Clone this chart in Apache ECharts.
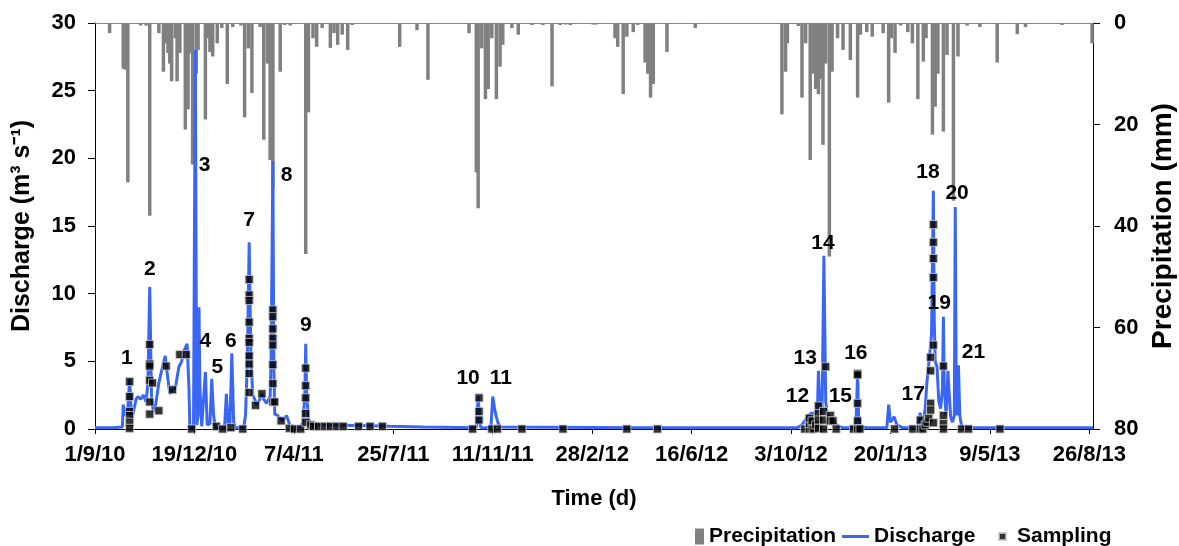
<!DOCTYPE html>
<html>
<head>
<meta charset="utf-8">
<script src="https://cdn.jsdelivr.net/npm/echarts@6/dist/echarts.min.js"></script>
<style>
  html, body { margin: 0; padding: 0; background: #ffffff; }
  #chart { width: 1179px; height: 546px; }
</style>
</head>
<body>
<div id="chart"></div>
<script>
// Record starts 1 Sep 2010; every x value below is a day number counted from that date.
const START_UTC = Date.UTC(2010, 8, 1);
const DAY_MS = 86400000;

// Date axis: one labelled tick every 109 days, 1/9/10 ... 26/8/13
const tickDays = [0, 109, 218, 327, 436, 545, 654, 763, 872, 981, 1090];
const lastDay = 1094;

// Daily precipitation (mm) on rainy days: [day, mm]
const precipitation = [
  [16, 2.0], [31, 9.0], [33, 9.2], [36, 31.4], [50, 0.5], [56, 0.5], [60, 38.0],
  [70, 2.0], [75, 9.6], [77, 4.0], [80, 5.9], [82, 8.0], [84, 11.5], [88, 3.0],
  [90, 11.5], [93, 5.9], [99, 21.0], [102, 17.0], [105, 6.0], [107, 27.9], [111, 10.0],
  [113, 5.3], [121, 19.0], [123, 3.0], [126, 5.7], [129, 6.6], [134, 4.0], [139, 1.0],
  [145, 12.0], [151, 0.8], [160, 0.5], [164, 18.6], [168, 5.0], [172, 13.8], [181, 0.8],
  [185, 23.0], [189, 8.0], [192, 27.0], [195, 33.0], [203, 9.6], [208, 0.4], [214, 0.5],
  [231, 45.5], [234, 17.6], [239, 3.0], [243, 4.7], [249, 1.0], [258, 4.9], [262, 2.0],
  [266, 4.3], [271, 2.3], [277, 5.3], [282, 0.4], [334, 4.7], [353, 1.4], [365, 11.2],
  [410, 2.0], [418, 29.4], [420, 36.5], [424, 5.0], [428, 15.0], [431, 13.0], [435, 3.0],
  [440, 15.0], [444, 8.6], [447, 4.3], [457, 1.0], [464, 2.3], [479, 0.4], [491, 0.4],
  [501, 12.5], [510, 0.4], [516, 0.3], [521, 0.4], [546, 0.3], [549, 0.3], [570, 3.0],
  [573, 4.7], [579, 14.0], [583, 2.7], [590, 1.8], [595, 0.4], [603, 7.8], [606, 10.0],
  [609, 14.7], [612, 12.0], [627, 5.7], [658, 1.0], [753, 18.0], [757, 9.6], [759, 4.0],
  [771, 0.6], [775, 14.7], [779, 4.0], [784, 27.0], [787, 10.0], [790, 13.0], [793, 14.0],
  [796, 11.0], [798, 24.0], [801, 8.0], [805, 46.0], [808, 9.6], [814, 3.0], [820, 5.3],
  [828, 7.3], [836, 14.7], [839, 2.3], [846, 1.8], [852, 2.7], [864, 2.0], [870, 15.7],
  [873, 3.0], [877, 5.9], [883, 0.5], [891, 1.8], [896, 4.0], [902, 15.0], [908, 7.6],
  [911, 3.0], [918, 22.0], [921, 16.5], [924, 10.0], [930, 21.4], [934, 6.3], [941, 35.0],
  [946, 6.6], [956, 0.5], [970, 0.8], [989, 7.8], [1011, 2.2], [1020, 0.8], [1060, 0.4],
  [1093, 4.0]
];

// Daily discharge (m3/s): [day, Q]
const discharge = [
  [0, 0.1], [20, 0.1], [30, 0.15], [31, 1.8], [33, 1.0], [36, 1.5], [38, 3.7], [40, 0.8],
  [42, 1.2], [45, 2.2], [47, 2.4], [50, 2.2], [53, 2.5], [56, 2.0], [58, 3.4], [60, 10.5],
  [62, 2.2], [64, 1.3], [66, 1.6], [68, 2.5], [70, 3.4], [72, 4.0], [74, 4.6], [77, 5.4],
  [79, 4.2], [82, 2.6], [85, 2.9], [88, 3.0], [90, 3.8], [92, 4.6], [95, 5.0], [97, 5.7],
  [99, 6.0], [101, 6.3], [103, 3.0], [104, 0.1], [108, 0.1], [110, 28.0], [111.5, 0.3],
  [113, 1.0], [114, 9.0], [115, 3.0], [117, 0.2], [119, 0.3], [121, 4.2], [123, 0.3],
  [126, 0.4], [128, 3.7], [130, 1.0], [132, 0.1], [142, 0.1], [144, 2.6], [146, 0.3],
  [148, 0.5], [150, 5.6], [152, 0.5], [154, 0.1], [163, 0.1], [165, 1.0], [167, 5.0],
  [169, 13.8], [171, 5.0], [173, 2.5], [175, 2.2], [177, 1.8], [180, 2.1], [183, 2.6],
  [185, 2.2], [188, 1.9], [190, 2.0], [192, 2.4], [193, 5.0], [195, 19.8], [196, 5.0],
  [197, 1.1], [200, 1.0], [203, 0.8], [206, 0.6], [210, 1.0], [212, 0.6], [214, 0.2],
  [221, 0.1], [226, 0.2], [228, 0.6], [230, 2.5], [231, 6.3], [232, 2.5], [234, 0.8],
  [236, 0.4], [240, 0.3], [260, 0.28], [290, 0.25], [323, 0.2], [360, 0.15], [418, 0.1],
  [420, 2.4], [422, 0.4], [423, 0.1], [434, 0.1], [436, 2.4], [437, 2.0], [438, 1.5],
  [440, 0.9], [442, 0.4], [444, 0.15], [600, 0.1], [770, 0.1], [775, 0.3], [778, 0.6],
  [780, 0.8], [782, 1.0], [784, 0.9], [786, 1.2], [788, 1.0], [790, 1.3], [792, 1.5],
  [793, 4.3], [795, 1.2], [797, 1.0], [799, 12.8], [801, 2.0], [803, 1.0], [806, 0.9],
  [809, 0.7], [812, 0.4], [815, 0.2], [820, 0.1], [834, 0.1], [835, 2.0], [836, 4.3],
  [837, 1.0], [839, 0.2], [845, 0.1], [868, 0.1], [870, 1.8], [872, 0.5], [874, 0.4],
  [876, 0.9], [877, 1.0], [879, 0.3], [885, 0.1], [900, 0.1], [903, 0.3], [904.5, 1.2],
  [906, 0.3], [908, 0.5], [910, 1.5], [912, 3.5], [913.5, 4.5], [915, 5.5], [917, 7.0],
  [919, 17.6], [920, 8.0], [921, 5.0], [923, 4.6], [925, 2.0], [927, 1.5], [929, 3.0],
  [930, 8.3], [931, 3.0], [933, 1.0], [935, 4.3], [936, 3.0], [938, 0.9], [940, 0.5],
  [942, 1.0], [943, 16.4], [944, 4.0], [945, 1.0], [946.5, 4.7], [948, 1.0], [950, 0.2],
  [960, 0.1], [1094, 0.1]
];

// Water samples taken: [day, Q at sampling time]
const sampling = [
  [38, 3.5], [38, 2.4], [38, 1.3], [38, 1.0], [38, 0.5], [38, 0.05],
  [60, 6.25], [60, 4.8], [60, 4.65], [60, 3.6], [60, 2.0], [60, 1.1], [63, 3.4], [70, 1.35],
  [78, 4.65], [85, 2.9], [93, 5.5], [100, 5.5], [106, 0], [133, 0.2], [140, 0], [149, 0.1],
  [162, 0], [169, 11.05], [169, 9.9], [169, 9.5], [169, 7.9], [169, 6.7], [169, 6.4],
  [169, 5.4], [169, 4.8], [169, 4.1], [169, 2.7], [176, 1.75], [183, 2.6],
  [195, 8.8], [195, 8.3], [195, 7.4], [195, 6.7], [195, 6.2], [195, 4.75], [195, 3.35],
  [195, 2.0], [197, 2.0], [204, 0.6], [213, 0.05], [218.5, 0], [225.5, 0],
  [231, 4.5], [231, 3.2], [231, 2.3], [231, 1.15], [231, 0.5], [236.5, 0.3], [239.5, 0.2],
  [245, 0.2], [252, 0.2], [258, 0.2], [265, 0.2], [272, 0.2], [289, 0.2], [301.5, 0.2],
  [315, 0.2], [414, 0], [421, 2.3], [421, 1.3], [421, 0.66], [435, 0], [441, 0], [468, 0],
  [513, 0], [583, 0], [616.5, 0],
  [778, 0], [783, 0], [783, 0.4], [783, 0.8], [786, 0], [786, 0.6], [788, 0], [790, 0.3],
  [793, 1.7], [793, 1.15], [793, 0.66], [793, 0.05], [798.6, 1.3], [798.6, 0.66],
  [798.6, 0], [801, 4.6], [806, 1.0], [806, 0.6], [809, 0.6], [812.5, 0], [831.5, 0],
  [836, 4.1], [836, 4.0], [836, 1.9], [836, 0.6], [836, 0], [838.5, 0], [876.5, 0],
  [896.5, 0], [904.6, 0.66], [904.6, 0], [907.5, 0], [910, 0.3], [912, 0.5], [914, 0.8],
  [916, 1.9], [916, 1.4], [916, 4.3], [916, 5.3], [919, 6.2], [919, 11.2], [919, 12.6],
  [919, 13.8], [919, 15.1], [919, 0.46], [930, 4.65], [930, 1.0], [930, 0.4], [930, 0],
  [950, 0], [957.5, 0], [992, 0]
];

// Numbered flood events: [day, Q where the number sits, event number]
const events = [
  [35, 5.2, '1'], [60, 11.8, '2'], [120, 19.5, '3'], [121, 6.5, '4'], [134, 4.6, '5'],
  [149, 6.5, '6'], [169, 15.4, '7'], [210, 18.75, '8'], [231, 7.7, '9'], [409, 3.75, '10'],
  [445, 3.75, '11'], [770, 2.4, '12'], [778.5, 5.2, '13'], [798, 13.75, '14'],
  [817, 2.4, '15'], [834, 5.6, '16'], [897, 2.6, '17'], [913, 19.0, '18'],
  [925.5, 9.3, '19'], [945, 17.4, '20'], [963, 5.7, '21']
];

const FONT = '"Liberation Sans", Arial, sans-serif';
const BLUE = '#3a66f5';
const GREY = '#808080';

function dayLabel(d) {
  const t = new Date(START_UTC + d * DAY_MS);
  return t.getUTCDate() + '/' + (t.getUTCMonth() + 1) + '/' + String(t.getUTCFullYear()).slice(2);
}

const boldText = (size) => ({ fontFamily: FONT, fontWeight: 'bold', fontSize: size, color: '#000' });

const chart = echarts.init(document.getElementById('chart'), null, { renderer: 'canvas' });

chart.setOption({
  animation: false,
  backgroundColor: '#ffffff',
  grid: { left: 95, right: 86, top: 23, bottom: 117, containLabel: false, outerBoundsMode: 'none' },
  legend: [
    {
      left: 695, top: 526, padding: 0, itemWidth: 9, itemHeight: 16,
      data: [{ name: 'Precipitation', icon: 'rect' }],
      textStyle: boldText(21), selectedMode: false
    },
    {
      left: 842, top: 526, padding: 0, itemWidth: 27, itemHeight: 3,
      data: [{ name: 'Discharge', icon: 'rect' }],
      textStyle: boldText(21), selectedMode: false
    },
    {
      left: 998, top: 526, padding: 0, itemWidth: 7, itemHeight: 7,
      data: [{ name: 'Sampling', icon: 'rect' }],
      textStyle: Object.assign(boldText(21), { padding: [0, 0, 0, 6] }), selectedMode: false
    }
  ],
  xAxis: [
    {
      type: 'value', min: 0, max: lastDay, interval: 109,
      name: 'Time (d)', nameLocation: 'middle', nameGap: 59,
      nameTextStyle: boldText(22),
      axisLine: { show: true, onZero: false, lineStyle: { color: '#000', width: 1 } },
      axisTick: { show: true, length: 5, customValues: tickDays, lineStyle: { color: '#000' } },
      axisLabel: { customValues: tickDays, margin: 15, formatter: dayLabel, ...boldText(22) },
      splitLine: { show: false }
    },
    {
      type: 'value', min: 0, max: lastDay, position: 'top',
      axisLine: { show: true, onZero: false, lineStyle: { color: '#8a8a8a', width: 1 } },
      axisTick: { show: false }, axisLabel: { show: false }, splitLine: { show: false }
    }
  ],
  yAxis: [
    {
      type: 'value', min: 0, max: 30, interval: 5, position: 'left',
      name: 'Discharge (m³ s⁻¹)', nameLocation: 'middle', nameGap: 60, nameRotate: 90,
      nameTextStyle: boldText(25),
      axisLine: { show: true, onZero: false, lineStyle: { color: '#000' } },
      axisTick: { show: true, length: 7, lineStyle: { color: '#000' } },
      axisLabel: { margin: 19, ...boldText(22) },
      splitLine: { show: false }
    },
    {
      type: 'value', min: 0, max: 80, interval: 20, inverse: true, position: 'right',
      name: 'Precipitation (mm)', nameLocation: 'middle', nameGap: 55, nameRotate: 90,
      nameTextStyle: boldText(28),
      axisLine: { show: true, onZero: false, lineStyle: { color: '#000' } },
      axisTick: { show: true, length: 7, lineStyle: { color: '#000' } },
      axisLabel: { margin: 21, ...boldText(22) },
      splitLine: { show: false }
    }
  ],
  series: [
    {
      name: 'Precipitation', type: 'bar', xAxisIndex: 0, yAxisIndex: 1,
      data: precipitation, barWidth: 3.5, barGap: '-100%',
      itemStyle: { color: GREY }, z: 1, silent: true
    },
    {
      name: 'Discharge', type: 'line', xAxisIndex: 0, yAxisIndex: 0,
      data: discharge, showSymbol: false, symbol: 'none',
      lineStyle: { color: BLUE, width: 3 }, itemStyle: { color: BLUE }, z: 2, silent: true
    },
    {
      name: 'Sampling', type: 'scatter', xAxisIndex: 0, yAxisIndex: 0,
      data: sampling, symbol: 'rect', symbolSize: 8,
      itemStyle: { color: '#000', borderColor: '#c8c8c8', borderWidth: 1 }, z: 3, silent: true
    },
    {
      name: 'events', type: 'scatter', xAxisIndex: 0, yAxisIndex: 0,
      data: events, symbolSize: 1, itemStyle: { color: 'transparent' }, z: 4, silent: true,
      label: {
        show: true, position: 'inside', formatter: (p) => p.value[2], ...boldText(21),
        textBorderWidth: 0, opacity: 1
      }
    }
  ]
});
</script>
</body>
</html>
